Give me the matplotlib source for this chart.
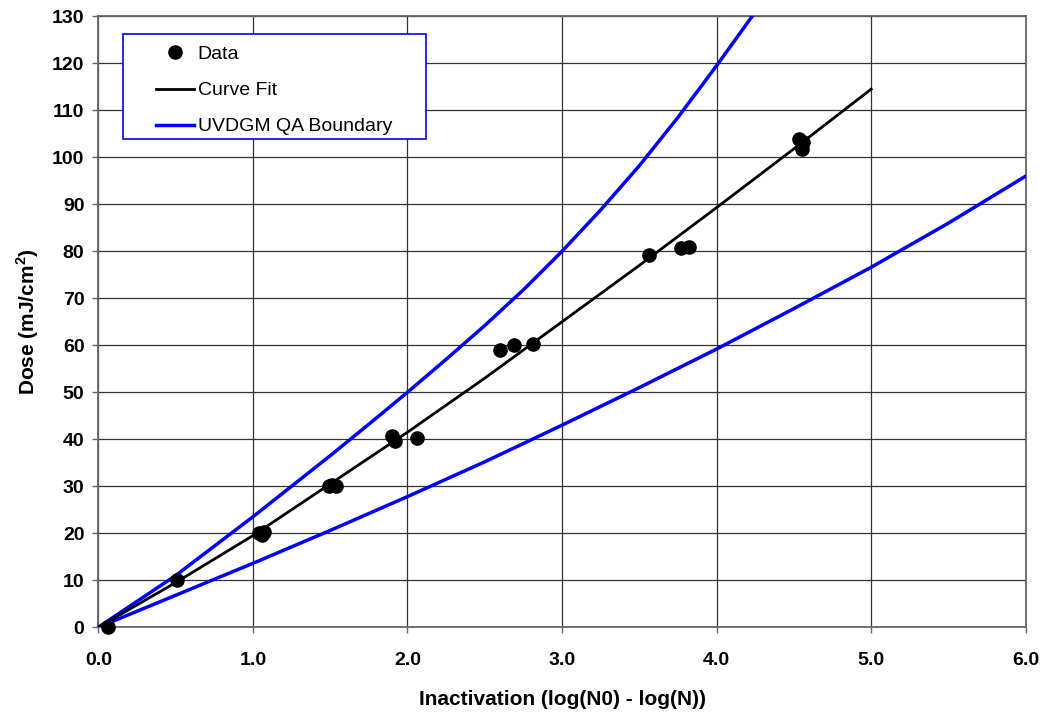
import numpy as np
import matplotlib
matplotlib.use('Agg')
import matplotlib.pyplot as plt
from matplotlib.patches import Rectangle

plt.rcParams['font.family'] = ['Liberation Sans', 'DejaVu Sans']
plt.rcParams['mathtext.fontset'] = 'custom'
plt.rcParams['mathtext.rm'] = 'Liberation Sans'
plt.rcParams['mathtext.bf'] = 'Liberation Sans:bold'

# measured points
data_x = [0.06, 0.51, 1.04, 1.06, 1.07, 1.49, 1.51, 1.54, 1.90, 1.92, 2.06,
          2.60, 2.69, 2.81, 3.56, 3.77, 3.82, 4.53, 4.56, 4.55]
data_y = [0.0, 10.1, 20.1, 19.6, 20.2, 30.0, 30.3, 30.1, 40.7, 39.7, 40.2,
          59.0, 60.1, 60.3, 79.3, 80.6, 81.0, 103.8, 103.3, 101.7]

# curve fit
fit_x = [0, 0.5, 1.0, 1.5, 2.0, 2.5, 3.0, 3.5, 4.0, 4.5, 5.0]
fit_y = [0, 9.5, 19.5, 30.5, 41.5, 53.0, 65.0, 77.0, 89.3, 101.8, 114.5]

# QA boundaries
upper_x = [0, 0.5, 1.0, 1.25, 1.5, 1.75, 2.0, 2.25, 2.5, 2.75, 3.0, 3.25, 3.5, 3.75, 4.0, 4.23]
upper_y = [0, 11.0, 23.5, 30.0, 36.5, 43.2, 50.0, 57.0, 64.2, 71.8, 80.0, 88.8, 98.2, 108.5, 119.5, 130.0]
lower_x = [0, 0.5, 1.0, 1.5, 2.0, 2.5, 3.0, 3.5, 4.0, 4.5, 5.0, 5.5, 6.0]
lower_y = [0, 6.8, 13.6, 20.6, 27.8, 35.2, 43.0, 51.0, 59.2, 67.8, 76.6, 86.0, 96.0]

fig = plt.figure(figsize=(10.47, 7.15), dpi=100)
ax = fig.add_axes([0.0939, 0.1227, 0.8858, 0.8545])

ax.plot(upper_x, upper_y, color='#0000ff', lw=2.5, zorder=3, label='UVDGM QA Boundary')
ax.plot(lower_x, lower_y, color='#0000ff', lw=2.5, zorder=3)
ax.plot(fit_x, fit_y, color='black', lw=2.0, zorder=4, label='Curve Fit')
ax.plot(data_x, data_y, 'o', color='black', ms=9.5, zorder=5, label='Data', clip_on=False)

ax.set_xlim(0, 6)
ax.set_ylim(0, 130)
ax.set_xticks(np.arange(0, 6.1, 1.0))
ax.set_yticks(np.arange(0, 131, 10))
ax.set_xticklabels([f'{v:.1f}' for v in np.arange(0, 6.1, 1.0)])
ax.grid(True, color='#333333', lw=0.9)
ax.set_axisbelow(True)
for s in ax.spines.values():
    s.set_color('#666666')
    s.set_linewidth(1.3)
ax.tick_params(axis='both', direction='out', length=4, width=1, color='#666666',
               labelsize=14)
ax.tick_params(axis='x', pad=14)
ax.tick_params(axis='y', pad=6)
for lab in ax.get_xticklabels() + ax.get_yticklabels():
    lab.set_fontweight('bold')

ax.set_xlabel('Inactivation (log(N0) - log(N))', fontsize=15, fontweight='bold', labelpad=15)
ax.set_ylabel(r'Dose (mJ/cm$^\mathbf{2}$)', fontsize=15, fontweight='bold', labelpad=8)

# legend box
ax.add_patch(Rectangle((0.0263, 0.799), 0.3266, 0.172, transform=ax.transAxes,
                       facecolor='white', edgecolor='#0000ff', lw=1.2, zorder=6))
h, l = ax.get_legend_handles_labels()
leg = ax.legend(h[::-1], l[::-1], loc='upper left', bbox_to_anchor=(0.062, 0.952),
                frameon=False, fontsize=14, handlelength=1.95, handletextpad=0.2,
                labelspacing=0.95, borderpad=0, borderaxespad=0)
leg.set_zorder(7)

fig.savefig('out.png', dpi=100)
